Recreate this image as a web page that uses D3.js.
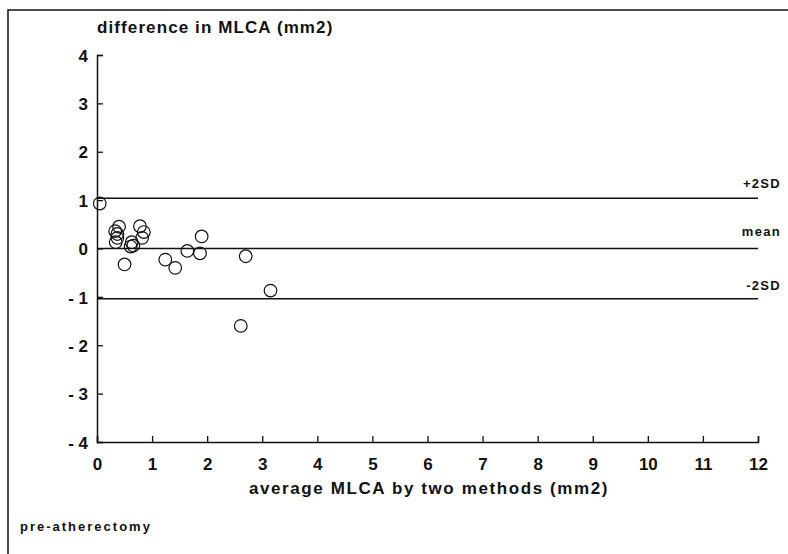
<!DOCTYPE html>
<html><head><meta charset="utf-8">
<script src="https://cdn.jsdelivr.net/npm/d3@7"></script>
<style>body{margin:0;background:#fff}svg{display:block}text{font-family:"Liberation Sans",Arial,sans-serif;font-weight:bold;fill:#111}</style>
</head><body>
<script>
const avgValues = [0.05,0.40,0.33,0.37,0.37,0.34,0.50,0.63,0.66,0.61,0.78,0.85,0.82,1.24,1.42,1.64,1.90,1.87,2.70,3.15,2.61];
const diffValues = [0.93,0.45,0.36,0.30,0.22,0.13,-0.33,0.13,0.06,0.04,0.46,0.34,0.22,-0.23,-0.40,-0.05,0.25,-0.10,-0.16,-0.87,-1.60];
const refLabels = ["+2SD","mean","-2SD"];
const refValues = [1.04,0,-1.04];
const xTicks = [0,1,2,3,4,5,6,7,8,9,10,11,12];
const yTicks = [-4,-3,-2,-1,0,1,2,3,4];

const W=788,H=554;
const svg=d3.select("body").append("svg").attr("width",W).attr("height",H);
const x=d3.scaleLinear().domain([0,12]).range([97,758]);
const y=d3.scaleLinear().domain([-4,4]).range([442,55]);

// frame
svg.append("path").attr("d",`M8,${H} V10 H${W}`).attr("fill","none").attr("stroke","#111").attr("stroke-width",1.5);

const fmt = d => (d<0 ? "- " + Math.abs(d) : String(d));
const xAxis=svg.append("g").attr("transform",`translate(0,${y(-4)})`)
  .call(d3.axisBottom(x).tickValues(xTicks).tickSize(-6).tickPadding(16).tickFormat(fmt));
const yAxis=svg.append("g").attr("transform",`translate(${x(0)},0)`)
  .call(d3.axisLeft(y).tickValues(yTicks).tickSize(-6).tickPadding(9).tickFormat(fmt));
[xAxis,yAxis].forEach(g=>{
  g.select(".domain").attr("stroke","#111").attr("stroke-width",1.5);
  g.selectAll(".tick line").attr("stroke","#111").attr("stroke-width",1.3);
  g.selectAll("text").style("font-size","17px").style("font-family","'Liberation Sans',Arial,sans-serif").style("font-weight","bold").attr("fill","#111");
});
yAxis.selectAll("text").attr("dy","0.36em");

// reference lines
svg.append("g").selectAll("line").data(refValues).join("line")
  .attr("x1",x(0)).attr("x2",x(12)).attr("y1",d=>y(d)).attr("y2",d=>y(d))
  .attr("stroke","#111").attr("stroke-width",1.5);
const labelOffsets=[10,13,9];
svg.append("g").selectAll("text").data(refLabels).join("text")
  .attr("x",781).attr("y",(d,i)=>y(refValues[i])-labelOffsets[i]).attr("text-anchor","end")
  .style("font-size","13px").style("letter-spacing","1.3px").text(d=>d);

// points
svg.append("g").selectAll("circle").data(avgValues).join("circle")
  .attr("cx",d=>x(d)).attr("cy",(d,i)=>y(diffValues[i])).attr("r",6.3)
  .attr("fill","none").attr("stroke","#111").attr("stroke-width",1.2);

svg.append("text").attr("x",97).attr("y",33).style("font-size","17px").style("letter-spacing","1.1px").text("difference in MLCA (mm2)");
svg.append("text").attr("x",429).attr("y",494).attr("text-anchor","middle").style("font-size","17px").style("letter-spacing","1.6px").text("average MLCA by two methods (mm2)");
svg.append("text").attr("x",20).attr("y",531).style("font-size","13px").style("letter-spacing","2px").text("pre-atherectomy");
</script>
</body></html>
